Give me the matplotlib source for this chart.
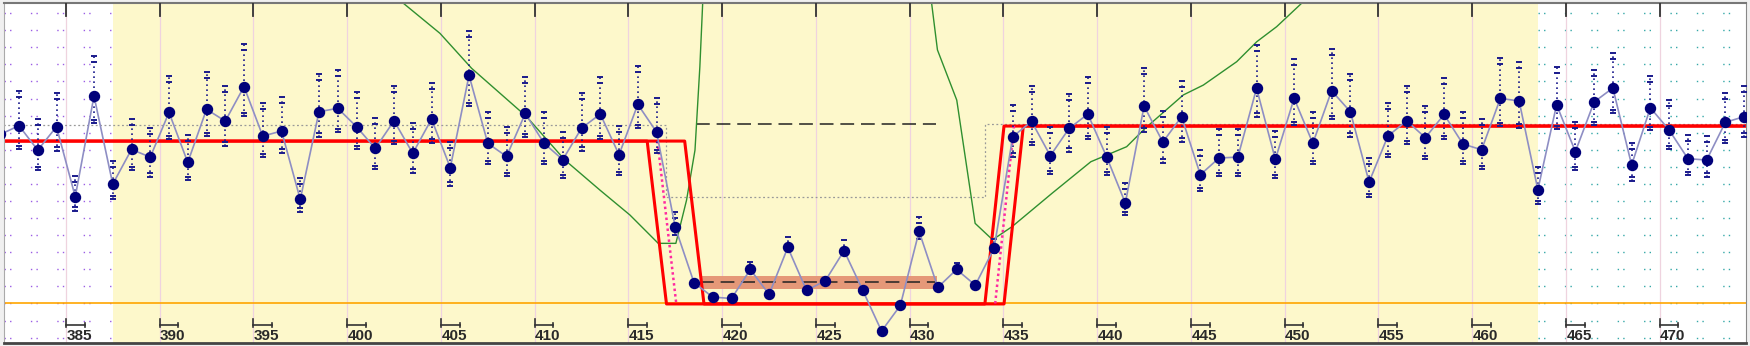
import numpy as np
import matplotlib
matplotlib.use("Agg")
import matplotlib.pyplot as plt

# samples and measured values (one point per sample)
samples = np.arange(381, 475)
values = [9.90, 10.41, 8.98, 10.35, 6.25, 12.15, 6.99, 9.02, 8.57, 11.19,
          8.26, 11.37, 10.68, 12.70, 9.80, 10.10, 6.09, 11.23, 11.43, 10.35,
          9.08, 10.70, 8.79, 10.80, 7.95, 13.36, 9.38, 8.61, 11.13, 9.38,
          8.42, 10.27, 11.09, 8.71, 11.66, 10.04, 4.45, 1.21, 0.37, 0.29,
          1.99, 0.53, 3.28, 0.76, 1.33, 3.09, 0.76, -1.62, -0.12, 4.22,
          0.94, 1.99, 1.07, 3.24, 9.77, 10.66, 8.65, 10.25, 11.09, 8.59,
          5.88, 11.56, 9.45, 10.94, 7.54, 8.52, 8.57, 12.60, 8.44, 12.01,
          9.38, 12.46, 11.23, 7.11, 9.80, 10.70, 9.71, 11.07, 9.34, 9.00,
          12.01, 11.86, 6.66, 11.64, 8.89, 11.80, 12.62, 8.11, 11.46, 10.16,
          8.48, 8.40, 10.61, 10.94]
upper = [None, 12.46, 10.78, 12.32, 7.48, 14.49, 8.36, 10.78, 10.29, 13.32,
         9.86, 13.57, 12.73, 15.18, 11.72, 12.11, 7.32, 13.42, 13.69, 12.40,
         10.84, 12.75, 10.55, 12.89, 9.47, 15.98, 11.23, 10.35, 13.28, 11.23,
         10.06, 12.32, 13.28, 10.41, 13.93, 12.01, 5.37, None, None, None,
         2.44, None, 3.91, None, None, 3.71, None, None, None, 5.04,
         None, 2.38, None, 3.75, 11.62, 12.73, 10.35, 12.25, 13.28, 10.35,
         7.03, 13.77, 11.29, 13.05, 8.98, 10.20, 10.20, 15.14, 10.12, 14.30,
         11.23, 14.88, 13.44, 8.50, 11.72, 12.73, 11.56, 13.18, 11.23, 10.78,
         14.39, 14.14, 8.01, 13.87, 10.64, 13.67, 14.69, 9.41, 13.32, 11.91,
         9.86, 9.80, 12.30, 12.73]
lower = [None, 9.02, 7.81, 8.95, 5.43, 10.55, 6.11, 7.81, 7.42, 9.63,
         7.23, 9.80, 9.24, 10.98, 8.55, 8.83, 5.37, 9.77, 10.02, 9.02,
         7.85, 9.34, 7.66, 9.41, 6.89, 11.56, 8.16, 7.46, 9.73, 8.16,
         7.32, 8.95, 9.61, 7.52, 10.25, 8.79, 4.00, None, None, None,
         None, None, None, None, None, None, None, None, None, 3.75,
         None, None, None, 2.93, 8.59, 9.28, 7.58, 8.89, 9.61, 7.52,
         5.18, 10.06, 8.24, 9.47, 6.58, 7.46, 7.46, 10.94, 7.32, 10.45,
         8.16, 10.78, 9.77, 6.21, 8.55, 9.34, 8.44, 9.61, 8.16, 7.85,
         10.39, 10.29, 5.82, 10.20, 7.81, 10.45, 11.13, 7.19, 10.16, 9.02,
         7.52, 7.42, 9.38, 9.77]

# limit lines
limit_a_x = [380, 418.0, 419.03, 434.01, 435.03, 476]
limit_a_y = [9.51, 9.51, -0.03, -0.03, 10.39, 10.39]
limit_b_x = [380, 416.0, 417.03, 435.03, 436.06, 476]
limit_b_y = [9.51, 9.51, -0.03, -0.03, 10.39, 10.39]
shift_x = [416.55, 417.55, np.nan, 434.56, 435.56]
shift_y = [9.51, 0.0, np.nan, 0.0, 10.39]
ref_x = [380, 417.0, 417.0, 434.03, 434.03, 476]
ref_y = [10.47, 10.47, 6.25, 6.25, 10.49, 10.49]
target_level = 0.0
seg_start, seg_end = 418.6, 431.4
seg_upper, seg_mean = 10.49, 1.23
seg_band = (0.86, 1.62)

# green curve
curve_x = [402.7, 403.0, 404.95, 406.64, 409.57, 411.61, 413.48, 415.08, 416.59,
           417.53, 418.10, 418.55, 418.81, 418.96, 419.2, 430.9, 431.17, 431.48,
           432.51, 433.49, 434.42, 435.45, 437.59, 439.66, 441.57, 442.55,
           444.59, 445.66, 447.44, 448.51, 449.57, 450.90, 451.3]
curve_y = [18.2, 17.58, 15.82, 13.77, 10.94, 8.40, 6.64, 5.18, 3.52,
           3.52, 6.05, 8.98, 13.87, 17.58, 30, 30, 17.58, 14.85,
           11.91, 4.69, 3.73, 4.49, 6.45, 8.30, 9.18, 10.25,
           12.21, 12.79, 14.16, 15.33, 16.21, 17.58, 18.2]

ticks = list(range(385, 471, 5))
active = (387.5, 463.5)
xmin, xmax = 381.7, 474.6
ymin, ymax = -2.30, 17.58

fig = plt.figure(figsize=(17.5, 3.46), dpi=100, facecolor="#f0f0f0")
ax = fig.add_axes([4 / 1750, 3.3 / 346, 1742 / 1750, 339.4 / 346])
ax.set_xlim(xmin, xmax)
ax.set_ylim(ymin, ymax)
ax.set_facecolor("white")

ax.axvspan(active[0], active[1], color="#fdf8cb", lw=0, zorder=0)

# dotted grid in the white parts
rows = np.arange(-2, 18)
for r in rows:
    ax.plot([xmin, active[0]], [r, r], color="#9b5de5", lw=1.0,
            ls=(0, (1, 3, 1, 14)), zorder=0.5)
    ax.plot([active[1], xmax], [r, r], color="#35a8a8", lw=1.0,
            ls=(0, (1, 3, 1, 14)), zorder=0.5)

for t in ticks:
    ax.axvline(t, color="#efd3df", lw=0.9, zorder=0.6)

ax.axhline(target_level, color="#ffa500", lw=1.2, zorder=1)
ax.plot(ref_x, ref_y, color="#999999", lw=0.9, ls=(0, (1.5, 2)), zorder=1.2)

ax.fill_between([seg_start + 0.2, seg_end + 0.05], seg_band[0], seg_band[1],
                color="#e59878", lw=0, zorder=1.3)
ax.plot([seg_start, seg_end], [seg_upper, seg_upper], color="#222222", lw=1.1,
        ls=(0, (9, 4.5)), zorder=1.4)
ax.plot([seg_start + 0.2, seg_end], [seg_mean, seg_mean], color="#222222", lw=1.1,
        ls=(0, (9, 4.5)), zorder=1.4)

ax.plot(curve_x, curve_y, color="#2f8f2f", lw=1.0, zorder=1.5)

ax.plot(limit_a_x, limit_a_y, color="#ff0000", lw=2.2, zorder=2)
ax.plot(limit_b_x, limit_b_y, color="#ff0000", lw=2.2, zorder=2)
ax.plot(shift_x, shift_y, color="#ff2aa0", lw=1.8, ls=(0, (1, 1.2)), zorder=2.1)

# whiskers
xs = samples + 0.5
y = np.array(values)
hi = np.array([np.nan if v is None else v for v in upper])
lo = np.array([np.nan if v is None else v for v in lower])
top = np.where(np.isnan(hi), y, hi)
bot = np.where(np.isnan(lo), y, lo)
ax.vlines(xs, bot, top, colors="#1a1a8c", lw=1.2, linestyles=(0, (1, 2)), zorder=3)
ax.plot(xs, hi, ls="none", marker="_", ms=4, mew=1.4, color="#1a1a8c", zorder=3)
ax.plot(xs, lo, ls="none", marker="_", ms=4, mew=1.4, color="#1a1a8c", zorder=3)
long_hi = np.where(hi - y > 0.7, hi - 0.35, np.nan)
long_lo = np.where(y - lo > 0.5, lo + 0.2, np.nan)
ax.plot(xs, long_hi, ls="none", marker="_", ms=4, mew=1.4, color="#1a1a8c", zorder=3)
ax.plot(xs, long_lo, ls="none", marker="_", ms=4, mew=1.4, color="#1a1a8c", zorder=3)

ax.plot(xs, y, color="#8e8ec4", lw=1.2, zorder=4)
ax.plot(xs, y, ls="none", marker="o", ms=7.2, color="#00007a", zorder=5)

# axis decorations drawn inside the plot
for t in ticks:
    ax.plot([t, t], [ymax, 16.84], color="#333333", lw=1.3, zorder=6)
    ax.plot([t, t], [-0.94, -1.37], color="#333333", lw=1.2, zorder=6)
    ax.plot([t, t + 1], [-1.27, -1.27], color="#333333", lw=1.2, zorder=6)
    ax.plot([t + 1, t + 1], [-1.13, -1.37], color="#333333", lw=1.2, zorder=6)
    ax.text(t + 0.02, -1.92, str(t), ha="left", va="center", fontsize=11,
            fontweight="bold", family="Liberation Sans", color="#2a2a2a", zorder=6)

ax.set_xticks([])
ax.set_yticks([])
ax.spines["top"].set_color("#777777")
ax.spines["top"].set_linewidth(1.5)
ax.spines["bottom"].set_color("#444444")
ax.spines["bottom"].set_linewidth(2)
ax.spines["left"].set_color("#aaaaaa")
ax.spines["right"].set_color("#888888")

fig.savefig("out.png", dpi=100, facecolor=fig.get_facecolor())
